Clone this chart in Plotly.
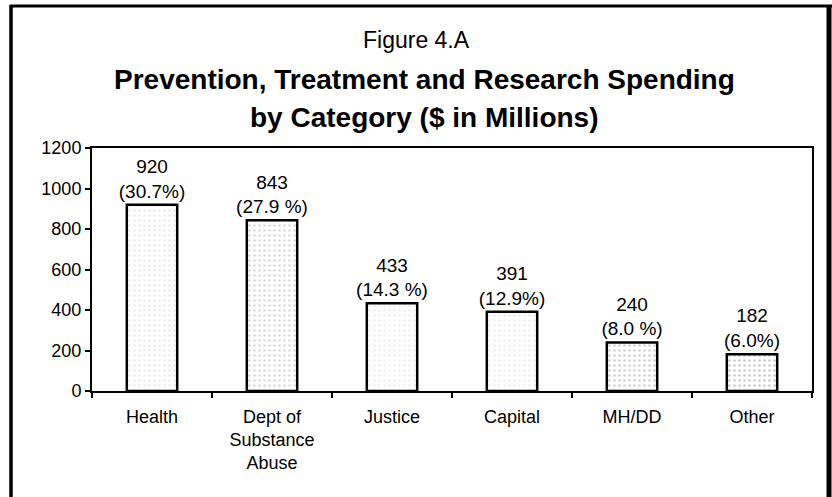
import plotly.graph_objects as go

categories = ["Health", "Dept of<br>Substance<br>Abuse", "Justice", "Capital", "MH/DD", "Other"]
values = [920, 843, 433, 391, 240, 182]
percent_labels = ["(30.7%)", "(27.9 %)", "(14.3 %)", "(12.9%)", "(8.0 %)", "(6.0%)"]
y_ticks = [0, 200, 400, 600, 800, 1000, 1200]

bar_bg = ["#ececec", "#dcdcdc", "#f0f0f0", "#efefef", "#d2d2d2", "#cdcdcd"]

FONT = "Liberation Sans, Arial, sans-serif"

texts = [f"{v}<br>{p}" for v, p in zip(values, percent_labels)]

fig = go.Figure(go.Bar(
    x=categories,
    y=values,
    text=texts,
    textposition="outside",
    constraintext="none",
    textfont=dict(family=FONT, size=19, color="black"),
    cliponaxis=False,
    width=0.42,
    marker=dict(
        color=bar_bg,
        line=dict(color="black", width=2.5),
        pattern=dict(shape=".", fgcolor="#8a8a8a", bgcolor=bar_bg,
                     size=5, solidity=0.22, fillmode="replace"),
    ),
    hoverinfo="skip",
))

L, R, T, B = 92, 20, 148, 106
W, H = 832, 497
pw, ph = W - L - R, H - T - B

def px(x):
    return (x - L) / pw

def py(y):
    return (H - B - y) / ph

fig.update_layout(
    width=W, height=H,
    margin=dict(l=L, r=R, t=T, b=B, autoexpand=False),
    paper_bgcolor="white",
    plot_bgcolor="white",
    showlegend=False,
    font=dict(family=FONT, color="black"),
    xaxis=dict(
        type="category",
        showline=True, linecolor="black", linewidth=2, mirror=True,
        ticks="outside", tickson="boundaries", ticklen=5, tickcolor="black", tickwidth=1.5,
        tickfont=dict(family=FONT, size=18, color="black"),
        ticklabelstandoff=8,
        showgrid=False,
    ),
    yaxis=dict(
        range=[0, 1200],
        tickvals=y_ticks,
        showline=True, linecolor="black", linewidth=2, mirror=True,
        ticks="outside", ticklen=5, tickcolor="black", tickwidth=1.5,
        tickfont=dict(family=FONT, size=18, color="black"),
        showgrid=False, zeroline=False,
    ),
    annotations=[
        dict(text="Figure 4.A", xref="paper", yref="paper", x=px(416), y=py(40),
             xanchor="center", yanchor="middle", showarrow=False,
             font=dict(family=FONT, size=23, color="black")),
        dict(text="<b>Prevention, Treatment and Research Spending</b>", xref="paper", yref="paper",
             x=px(424), y=py(80), xanchor="center", yanchor="middle", showarrow=False,
             font=dict(family=FONT, size=28, color="black")),
        dict(text="<b>by Category ($ in Millions)</b>", xref="paper", yref="paper",
             x=px(424), y=py(117), xanchor="center", yanchor="middle", showarrow=False,
             font=dict(family=FONT, size=28, color="black")),
    ],
    shapes=[
        dict(type="line", xref="paper", yref="paper", x0=px(10), x1=px(832), y0=py(6), y1=py(6),
             line=dict(color="black", width=3)),
        dict(type="line", xref="paper", yref="paper", x0=px(11), x1=px(11), y0=py(5), y1=py(500),
             line=dict(color="black", width=3.5)),
        dict(type="line", xref="paper", yref="paper", x0=px(829), x1=px(829), y0=py(5), y1=py(500),
             line=dict(color="black", width=5)),
    ],
)

fig.write_html(
    "out.html",
    config={"displayModeBar": False},
    post_script="document.body.style.margin='0';document.body.style.padding='0';"
                "document.body.style.overflow='hidden';",
)
